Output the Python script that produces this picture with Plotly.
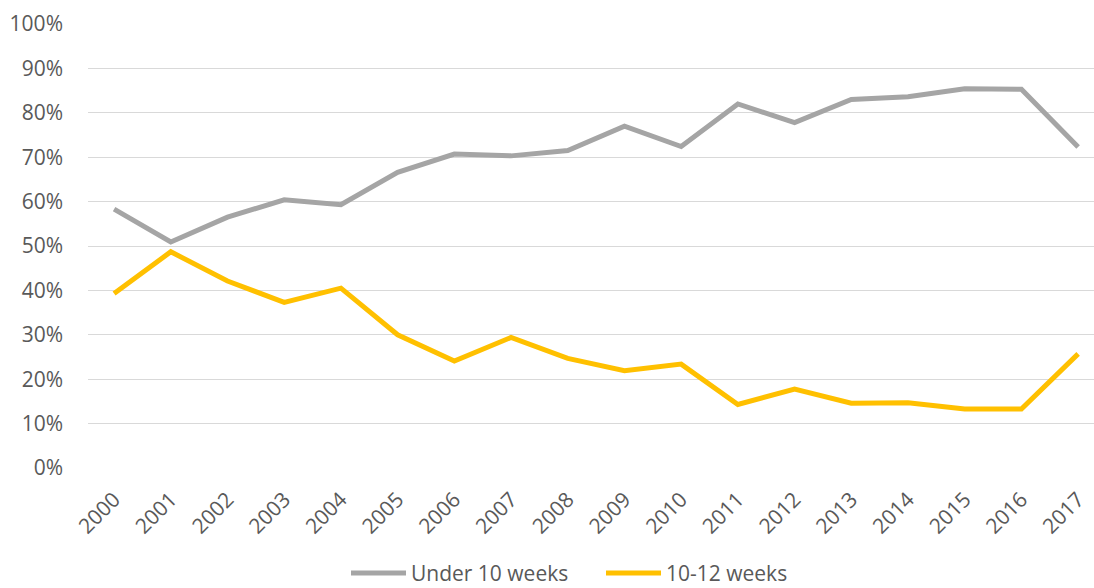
import plotly.graph_objects as go

years = [str(y) for y in range(2000, 2018)]
under_10 = [58.3, 50.9, 56.5, 60.4, 59.3, 66.6, 70.7, 70.3, 71.5, 77.0, 72.4, 82.0, 77.8, 83.0, 83.6, 85.4, 85.3, 72.3]
w10_12 = [39.3, 48.7, 42.1, 37.3, 40.5, 30.0, 24.1, 29.4, 24.7, 21.9, 23.4, 14.3, 17.8, 14.6, 14.7, 13.3, 13.3, 25.7]
y_ticks = [0, 10, 20, 30, 40, 50, 60, 70, 80, 90, 100]

FONT = "Open Sans"
fig = go.Figure()
fig.add_trace(go.Scatter(x=years, y=[v / 100 for v in under_10], mode="lines",
                         name="Under 10 weeks", line=dict(color="#A5A5A5", width=5)))
fig.add_trace(go.Scatter(x=years, y=[v / 100 for v in w10_12], mode="lines",
                         name="10-12 weeks", line=dict(color="#FFC000", width=5)))

fig.update_layout(
    width=1094, height=588,
    margin=dict(l=88, r=0, t=24, b=120, autoexpand=False),
    plot_bgcolor="white", paper_bgcolor="white",
    font=dict(family=FONT, size=20, color="#595959"),
    showlegend=True,
    legend=dict(orientation="h", x=346 / 1094, xanchor="left", xref="container",
                y=0.025, yanchor="middle", yref="container", itemwidth=55,
                entrywidth=185, font=dict(size=21, color="#595959")),
    xaxis=dict(type="category", range=[-0.46, 17.28], showgrid=False, showline=False,
               automargin=False, ticks="", tickangle=-45, ticklabelstandoff=14,
               tickfont=dict(size=21, color="#595959")),
    yaxis=dict(range=[0, 1.0], tickvals=[t / 100 for t in y_ticks],
               ticktext=[f"{t}%" for t in y_ticks], showgrid=True, automargin=False,
               gridcolor="#D9D9D9", gridwidth=1.3, zeroline=False, showline=False,
               ticks="", ticklabelstandoff=24, tickfont=dict(size=21, color="#595959")),
)
fig.write_html("out.html", config={"displayModeBar": False},
               post_script="document.body.style.margin='0';document.body.style.overflow='hidden';")
